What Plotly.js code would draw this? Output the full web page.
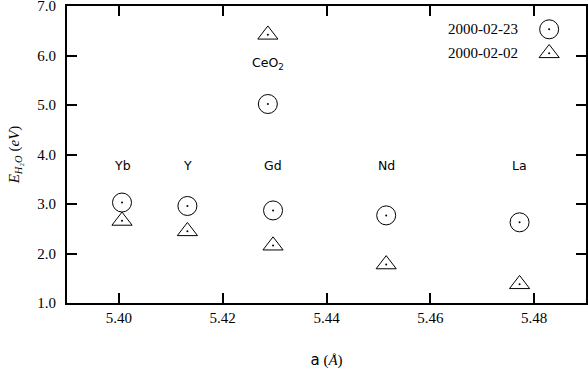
<!DOCTYPE html>
<html>
<head>
<meta charset="utf-8">
<script src="https://cdn.plot.ly/plotly-3.0.1.min.js"></script>
<style>html,body{margin:0;padding:0;background:#fff;}#chart{width:588px;height:371px;}</style>
</head>
<body>
<div id="chart"></div>
<script>
// Data
var compounds = ["Yb", "Y", "Gd", "CeO<sub>2</sub>", "Nd", "La"];
var latticeA = [5.4006, 5.4132, 5.4297, 5.4287, 5.4515, 5.4772];
var e_20000223 = [3.03, 2.96, 2.87, 5.02, 2.77, 2.63];
var e_20000202 = [2.66, 2.45, 2.16, 6.42, 1.78, 1.38];
var labelY = [3.77, 3.77, 3.77, 5.83, 3.77, 3.77];
var seriesNames = ["2000-02-23", "2000-02-02"];
var yTicks = [1, 2, 3, 4, 5, 6, 7];
var xTicks = [5.40, 5.42, 5.44, 5.46, 5.48];

var serif = "Liberation Serif, serif";
var sans = "DejaVu Sans, sans-serif";

var traces = [
  {x: latticeA, y: e_20000223, mode: "markers", name: seriesNames[0], showlegend: false,
   marker: {symbol: "circle-open", size: 19, color: "#000", line: {width: 1, color: "#000"}}},
  {x: latticeA, y: e_20000202, mode: "markers", name: seriesNames[1], showlegend: false,
   marker: {symbol: "triangle-up-open", size: 17.5, color: "#000", line: {width: 1, color: "#000"}}},
  {x: latticeA, y: e_20000223, mode: "markers", showlegend: false, hoverinfo: "skip",
   marker: {symbol: "circle", size: 2, color: "#000"}},
  {x: latticeA, y: e_20000202, mode: "markers", showlegend: false, hoverinfo: "skip",
   marker: {symbol: "circle", size: 2, color: "#000"}}
];

var annotations = compounds.map(function (c, i) {
  return {x: latticeA[i], y: labelY[i], xref: "x", yref: "y", text: c, showarrow: false,
          font: {family: sans, size: 12.5, color: "#000"}};
});
// legend text (symbols drawn to the right, as in the reference)
var legY = [0.9215, 0.841];
seriesNames.forEach(function (n, i) {
  annotations.push({x: 0.873, y: legY[i], xref: "paper", yref: "paper", xanchor: "right", yanchor: "middle",
    text: n, showarrow: false, font: {family: serif, size: 15, color: "#000"}});
});

var r = 8.75, rt = r * 2 / Math.sqrt(3);
var shapes = [
  {type: "circle", xref: "paper", yref: "paper", xsizemode: "pixel", ysizemode: "pixel",
   xanchor: 0.929, yanchor: legY[0], x0: -9.5, x1: 9.5, y0: -9.5, y1: 9.5,
   line: {color: "#000", width: 1}},
  {type: "circle", xref: "paper", yref: "paper", xsizemode: "pixel", ysizemode: "pixel",
   xanchor: 0.929, yanchor: legY[0], x0: -1, x1: 1, y0: -1, y1: 1,
   line: {width: 0}, fillcolor: "#000"},
  {type: "path", xref: "paper", yref: "paper", xsizemode: "pixel", ysizemode: "pixel",
   xanchor: 0.929, yanchor: legY[1],
   path: "M" + (-rt) + "," + (-r / 2) + " L" + rt + "," + (-r / 2) + " L0," + r + " Z",
   line: {color: "#000", width: 1}},
  {type: "circle", xref: "paper", yref: "paper", xsizemode: "pixel", ysizemode: "pixel",
   xanchor: 0.929, yanchor: legY[1], x0: -1, x1: 1, y0: -1, y1: 1,
   line: {width: 0}, fillcolor: "#000"}
];

var layout = {
  width: 588, height: 371,
  margin: {l: 67, r: 2, t: 6, b: 68},
  paper_bgcolor: "#fff", plot_bgcolor: "#fff",
  showlegend: false,
  xaxis: {
    range: [5.39, 5.49], tickvals: xTicks, ticktext: xTicks.map(function (v) { return v.toFixed(2); }),
    ticks: "inside", ticklen: 10, tickwidth: 2, tickcolor: "#000",
    showline: true, linewidth: 2, linecolor: "#000", mirror: "ticks",
    showgrid: false, zeroline: false, ticklabeloverflow: "allow",
    tickfont: {family: serif, size: 15, color: "#000"},
    title: {text: "<span style=\"font-family:DejaVu Sans\">a</span> (<i>Å</i>)", standoff: 29,
            font: {family: serif, size: 15, color: "#000"}}
  },
  yaxis: {
    range: [1, 7], tickvals: yTicks, ticktext: yTicks.map(function (v) { return v.toFixed(1); }),
    ticks: "inside", ticklen: 10, tickwidth: 2, tickcolor: "#000",
    showline: true, linewidth: 2, linecolor: "#000", mirror: "ticks",
    showgrid: false, zeroline: false, ticklabeloverflow: "allow",
    ticklabelstandoff: 6,
    tickfont: {family: serif, size: 15, color: "#000"},
    title: {text: "<i>E</i><sub><i>H</i>₂<i>O</i></sub> (<i>eV</i>)", standoff: 14,
            font: {family: serif, size: 15, color: "#000"}}
  },
  annotations: annotations,
  shapes: shapes
};

Plotly.newPlot("chart", traces, layout, {staticPlot: true, displayModeBar: false});
</script>
</body>
</html>
